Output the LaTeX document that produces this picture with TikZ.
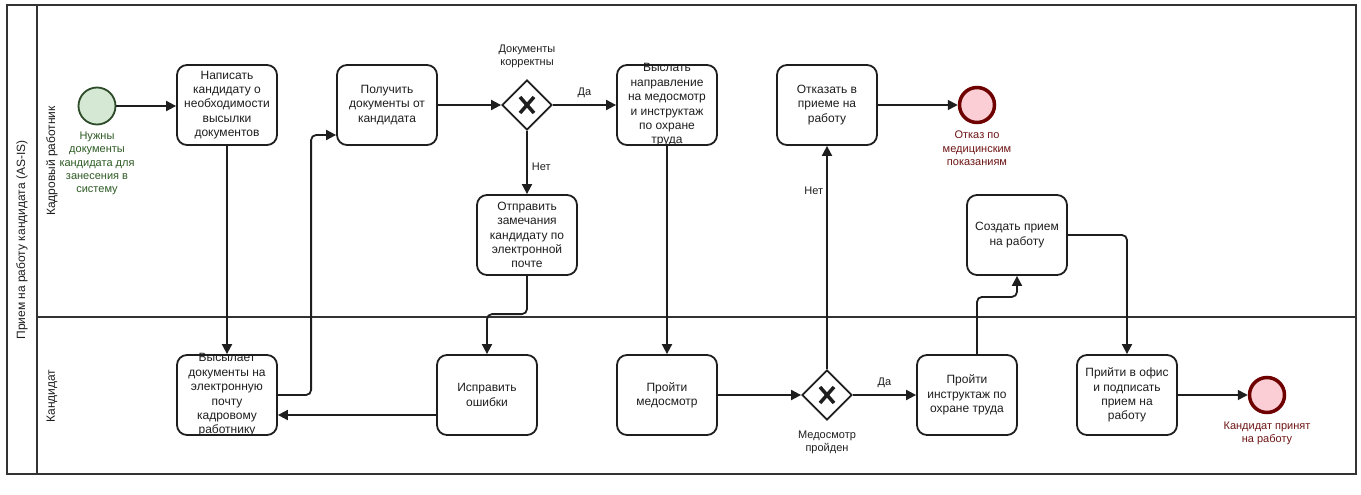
\documentclass[tikz,border=0pt]{standalone}
\usepackage{fontspec}
\setmainfont{Liberation Sans}
\usetikzlibrary{arrows.meta,shapes.geometric,calc}

\definecolor{ink}{RGB}{30,30,30}
\definecolor{lanec}{RGB}{51,51,51}
\definecolor{startfill}{RGB}{213,232,212}
\definecolor{startline}{RGB}{45,75,40}
\definecolor{starttext}{RGB}{45,90,35}
\definecolor{endfill}{RGB}{250,206,212}
\definecolor{endline}{RGB}{111,0,0}
\definecolor{endtext}{RGB}{110,20,20}

\tikzset{
  lane/.style={draw=lanec, line width=1.8pt},
  lanelabel/.style={rotate=90, font=\fontsize{12}{14.4}\selectfont, text=ink, inner sep=0pt},
  task/.style={draw=ink, fill=white, line width=1.8pt, rounded corners=10pt,
    minimum width=100pt, minimum height=80pt, inner sep=0pt},
  tasktext/.style={align=center, font=\fontsize{12}{14.4}\selectfont, text=ink, inner sep=0pt},
  small/.style={align=center, font=\fontsize{11}{13.2}\selectfont, inner sep=0pt},
  xmark/.style={draw=ink, line width=3.5pt},
  gateway/.style={diamond, draw=ink, fill=white, line width=1.8pt,
    minimum width=50pt, minimum height=50pt, inner sep=0pt,
    path picture={
      \draw[xmark] ($(path picture bounding box.center)+(-7,-8)$) -- ($(path picture bounding box.center)+(7,8)$)
                   ($(path picture bounding box.center)+(-7,8)$) -- ($(path picture bounding box.center)+(7,-8)$);}},
  startev/.style={circle, draw=startline, fill=startfill, line width=1.8pt, minimum size=37pt, inner sep=0pt},
  endev/.style={circle, draw=endline, fill=endfill, line width=3.5pt, minimum size=35pt, inner sep=0pt},
  flow/.style={draw=ink, line width=1.8pt, -{Triangle[length=10pt,width=10pt]}, rounded corners=5pt},
  lbl/.style={font=\fontsize{11}{13.2}\selectfont, text=ink, inner sep=0pt},
}

\begin{document}
\begin{tikzpicture}[x=1pt, y=-1pt]
\useasboundingbox (0,0) rectangle (1361,495);

% pool and lanes
\draw[lane] (7,5) rectangle (1356,474);
\draw[lane] (37,5) -- (37,474);
\draw[lane] (37,317) -- (1356,317);
\node[lanelabel] (pool) at (22,240) {Прием на работу кандидата (AS-IS)};
\node[lanelabel] (laneHR) at (52,161) {Кадровый работник};
\node[lanelabel] (laneC) at (52,396) {Кандидат};

% HR lane
\node[startev] (s) at (97,106) {};
\node[small, text=starttext, anchor=north] (slbl) at (97,132) {Нужны\\документы\\кандидата для\\занесения в\\систему};

\node[task, label={[tasktext]center:Написать\\кандидату о\\необходимости\\высылки\\документов}] (t1) at (227,105) {};
\node[task, label={[tasktext]center:Получить\\документы от\\кандидата}] (t2) at (387,105) {};
\node[gateway] (g1) at (527,105) {};
\node[small, text=ink, anchor=south] (g1lbl) at (527,68) {Документы\\корректны};
\node[task, label={[tasktext]center:Выслать\\направление\\на медосмотр\\и инструктаж\\по охране\\труда}] (t3) at (667,105) {};
\node[task, label={[tasktext]center:Отказать в\\приеме на\\работу}] (t4) at (827,105) {};
\node[endev] (e1) at (977,105) {};
\node[small, text=endtext, anchor=north] (e1lbl) at (977,131) {Отказ по\\медицинским\\показаниям};
\node[task, label={[tasktext]center:Отправить\\замечания\\кандидату по\\электронной\\почте}] (t5) at (527,235) {};
\node[task, label={[tasktext]center:Создать прием\\на работу}] (t6) at (1017,235) {};

% candidate lane
\node[task, label={[tasktext]center:Высылает\\документы на\\электронную\\почту\\кадровому\\работнику}] (t7) at (227,395) {};
\node[task, label={[tasktext]center:Исправить\\ошибки}] (t8) at (487,395) {};
\node[task, label={[tasktext]center:Пройти\\медосмотр}] (t9) at (667,395) {};
\node[gateway] (g2) at (827,395) {};
\node[small, text=ink, anchor=north] (g2lbl) at (827,431) {Медосмотр\\пройден};
\node[task, label={[tasktext]center:Пройти\\инструктаж по\\охране труда}] (t10) at (967,395) {};
\node[task, label={[tasktext]center:Прийти в офис\\и подписать\\прием на\\работу}] (t11) at (1127,395) {};
\node[endev] (e2) at (1267,395) {};
\node[small, text=endtext, anchor=north] (e2lbl) at (1267,422) {Кандидат принят\\на работу};

% sequence flows
\draw[flow] (s.east) -- (s.east -| t1.west);
\draw[flow] (t1.south) -- (t7.north);
\draw[flow] (t7.east) -| ($(t2.west)+(-25,30)$) -- ($(t2.west)+(0,30)$);
\draw[flow] (t2.east) -- (g1.west);
\draw[flow] (g1.east) -- node[lbl, above=6pt, pos=0.5] (da1) {Да} (t3.west);
\draw[flow] (g1.south) -- node[lbl, right=4pt, pos=0.56] (net1) {Нет} (t5.north);
\draw[flow] (t5.south) |- ($(t8.north)+(0,-40)$) -- (t8.north);
\draw[flow] ($(t8.west)+(0,20)$) -- ($(t7.east)+(0,20)$);
\draw[flow] (t3.south) -- (t9.north);
\draw[flow] (t9.east) -- (g2.west);
\draw[flow] (g2.north) -- node[lbl, left=3pt, pos=0.8] (net2) {Нет} (t4.south);
\draw[flow] (t4.east) -- (e1.west);
\draw[flow] (g2.east) -- node[lbl, above=6pt, pos=0.5] (da2) {Да} (t10.west);
\draw[flow] ($(t10.north)+(10,0)$) |- ($(t6.south)+(0,21)$) -- (t6.south);
\draw[flow] (t6.east) -| (t11.north);
\draw[flow] (t11.east) -- (e2.west);
\end{tikzpicture}
\end{document}
